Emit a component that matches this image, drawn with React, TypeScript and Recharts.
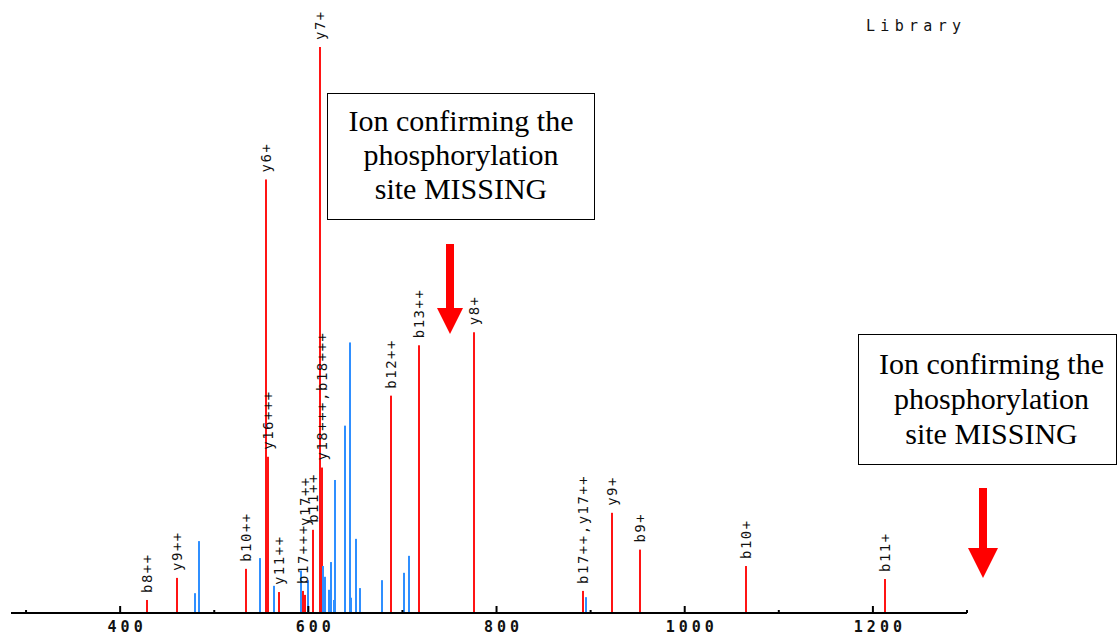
import React from 'react';
import { ComposedChart, Bar, Cell, XAxis, YAxis, LabelList } from 'recharts';

// matched (library) fragment ions: m/z, relative intensity, annotation
const redMz = [428.7, 460.6, 533.9, 555.2, 557.3, 569.0, 594.5, 597.0, 605.1, 612.5, 614.1, 687.5, 717.7, 775.9, 892.4, 922.8, 952.9, 1065.6, 1212.6];
const redIntensity = [2.3, 6.2, 7.8, 76.6, 27.6, 3.7, 3.9, 3.2, 14.7, 100, 25.7, 38.4, 47.3, 49.6, 3.9, 17.7, 11.2, 8.3, 6.0];
const redLabels = ['b8++', 'y9++', 'b10++', 'y6+', 'y16+++', 'y11++', 'b17+++', 'y17++', 'b11++', 'y7+', 'y18+++,b18+++', 'b12++', 'b13++', 'y8+', 'b17++,y17++', 'y9+', 'b9+', 'b10+', 'b11+'];

// unmatched peaks
const blueMz = [479.7, 484.0, 548.8, 563.7, 592.3, 599.5, 615.7, 618.2, 622.4, 624.5, 627.1, 628.8, 639.4, 644.1, 645.5, 650.5, 655.0, 678.4, 702.1, 706.8, 894.9];
const blueIntensity = [3.5, 12.7, 9.7, 4.8, 7.5, 5.8, 8.3, 6.4, 4.1, 9.0, 2.3, 23.5, 33.1, 47.8, 2.7, 13.1, 4.4, 5.8, 7.1, 10.1, 2.8];

const xTicks = [300, 400, 500, 600, 700, 800, 900, 1000, 1100, 1200, 1300];

const RED = '#ff1414';
const BLUE = '#2f8fff';

const peaks = [
    ...redMz.map((mz, i) => ({ mz, intensity: redIntensity[i], label: redLabels[i], kind: 'red' })),
    ...blueMz.map((mz, i) => ({ mz, intensity: blueIntensity[i], label: undefined as string | undefined, kind: 'blue' })),
].sort((a, b) => a.mz - b.mz);

// labels that got pushed up to avoid overlap in the original
const labelLift: Record<string, number> = { 'y17++': 62 };

// stick drawn on whole pixels so every peak is a solid 2px line
const Stick = (props: any) => {
    const { x, y, width, height, fill } = props;
    if (!height) return null;
    const left = Math.round(Number(x) + Number(width) / 2 - 1);
    return <rect x={left} y={y} width={2} height={height} fill={fill} />;
};

const PeakLabel = (props: any) => {
    const { x, y, width, value } = props;
    if (!value) return null;
    const cx = Number(x) + Number(width) / 2;
    const ty = Number(y) - 7 - (labelLift[value] || 0);
    return (
        <text
            x={cx}
            y={ty}
            transform={`rotate(-90 ${cx} ${ty})`}
            textAnchor="start"
            dominantBaseline="central"
            fontFamily="'DejaVu Sans Mono', monospace"
            fontSize={14}
            letterSpacing={1.5}
            fill="#111"
        >
            {value}
        </text>
    );
};

const AxisTick = (props: any) => {
    const { x, y, payload } = props;
    const major = payload.value % 200 === 0;
    return (
        <g>
            <line x1={x} y1={y} x2={x} y2={y - (major ? 7 : 3)} stroke="#000" strokeWidth={2} />
            {major && (
                <text
                    x={x + 7}
                    y={y + 14}
                    textAnchor="middle"
                    dominantBaseline="central"
                    fontFamily="'DejaVu Sans Mono', monospace"
                    fontSize={15}
                    fontWeight="bold"
                    letterSpacing={4}
                    fill="#111"
                >
                    {payload.value}
                </text>
            )}
        </g>
    );
};

const boxStyle: React.CSSProperties = {
    position: 'absolute',
    background: '#fff',
    border: '1.5px solid #000',
    boxSizing: 'border-box',
    textAlign: 'center',
    fontFamily: "'Liberation Serif', 'Times New Roman', serif",
    fontSize: 30,
    color: '#000',
};

export default function App() {
    return (
        <div style={{ position: 'absolute', left: 0, top: 0, width: 1118, height: 637, background: '#fff', overflow: 'hidden' }}>
            <ComposedChart width={1118} height={637} data={peaks} margin={{ top: 47, right: 151, bottom: 0, left: 11 }}>
                <XAxis
                    dataKey="mz"
                    type="number"
                    domain={[284, 1300]}
                    ticks={xTicks}
                    interval={0}
                    height={24}
                    tickSize={0}
                    tickMargin={0}
                    tickLine={false}
                    axisLine={{ stroke: '#000', strokeWidth: 2 }}
                    tick={<AxisTick />}
                    allowDataOverflow
                />
                <YAxis hide domain={[0, 100]} />
                <Bar dataKey="intensity" barSize={2} shape={<Stick />} isAnimationActive={false}>
                    {peaks.map((p, i) => (
                        <Cell key={i} fill={p.kind === 'red' ? RED : BLUE} />
                    ))}
                    <LabelList dataKey="label" content={PeakLabel} />
                </Bar>
            </ComposedChart>

            <div
                style={{
                    position: 'absolute', left: 866, top: 17,
                    fontFamily: "'DejaVu Sans Mono', monospace", fontSize: 15, letterSpacing: 5.3, color: '#111',
                }}
            >
                Library
            </div>

            <div style={{ ...boxStyle, left: 327, top: 93, width: 268, height: 127, paddingTop: 10, lineHeight: '34px' }}>
                Ion confirming the<br />phosphorylation<br />site MISSING
            </div>
            <div style={{ ...boxStyle, left: 858, top: 334, width: 259, height: 131, paddingTop: 11, paddingLeft: 8, lineHeight: '35px' }}>
                Ion confirming the<br />phosphorylation<br />site MISSING
            </div>

            <svg width={1118} height={637} style={{ position: 'absolute', left: 0, top: 0, pointerEvents: 'none' }}>
                <rect x={446} y={244} width={8} height={65} fill="#ff0000" />
                <polygon points="437,308 463,308 450,334" fill="#ff0000" />
                <rect x={979} y={488} width={8} height={61} fill="#ff0000" />
                <polygon points="968,548 998,548 983,578" fill="#ff0000" />
            </svg>
        </div>
    );
}
